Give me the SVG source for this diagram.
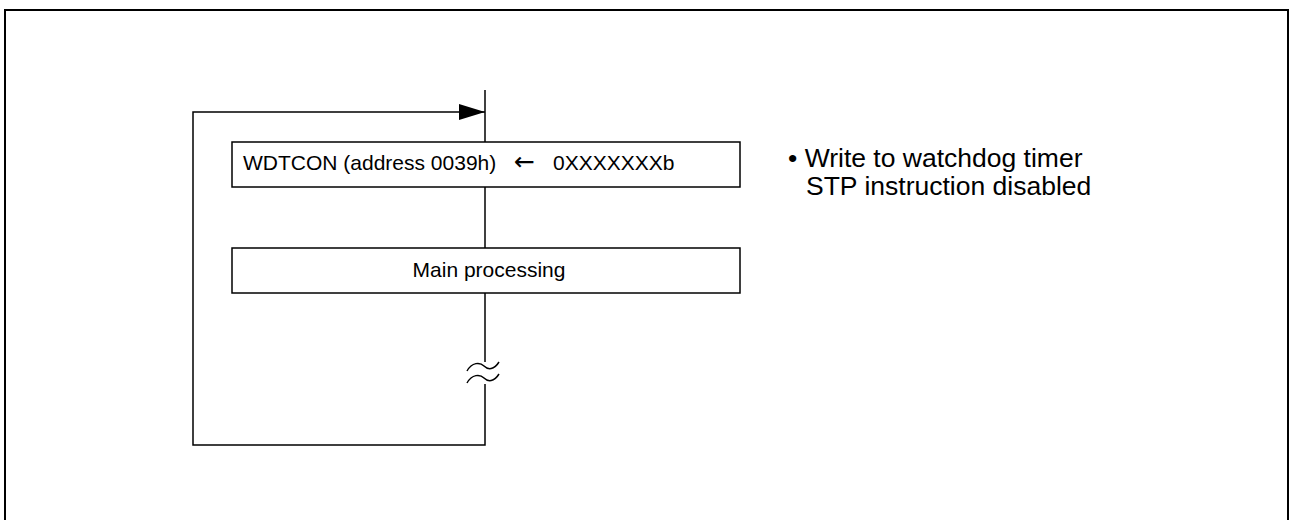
<svg xmlns="http://www.w3.org/2000/svg" width="1289" height="520" viewBox="0 0 1289 520">
<style>
.ln{fill:none;stroke:#000;stroke-width:1.5}
.bx{fill:#fff;stroke:#000;stroke-width:1.5}
.t{font-family:"Liberation Sans",Arial,sans-serif;font-size:21px;fill:#000}
.ar{font-family:"DejaVu Sans",sans-serif;font-size:25px}
.n{font-family:"Liberation Sans",Arial,sans-serif;font-size:26.5px;fill:#000}
</style>
<defs>
<marker id="ah" markerWidth="26" markerHeight="16" refX="26" refY="8" orient="auto" markerUnits="userSpaceOnUse">
<path d="M0,0 L26,8 L0,16 Z" fill="#000"/>
</marker>
</defs>
<rect x="5" y="10" width="1283" height="520" fill="none" stroke="#000" stroke-width="2"/>
<g id="connectors">
<line class="ln" x1="485" y1="90" x2="485" y2="362"/>
<path class="ln" d="M485,384 L485,445 L193,445 L193,112 L485,112" marker-end="url(#ah)"/>
<path class="ln" d="M467,371 C472,362 480,362 484,366 C488,370 494,370 499,362"/>
<path class="ln" d="M467,383 C472,374 480,374 484,378 C488,382 494,382 499,374"/>
</g>
<g id="wdtcon">
<rect class="bx" x="232" y="142" width="508" height="45"/>
<text class="t" y="170"><tspan x="243">WDTCON (address 0039h)</tspan><tspan class="ar" x="514">←</tspan><tspan x="553">0XXXXXXXb</tspan></text>
</g>
<g id="main">
<rect class="bx" x="232" y="248" width="508" height="45"/>
<text class="t" x="489" y="277" text-anchor="middle">Main processing</text>
</g>
<g id="note">
<text class="n" x="788" y="167">• Write to watchdog timer</text>
<text class="n" x="806" y="195">STP instruction disabled</text>
</g>
</svg>
